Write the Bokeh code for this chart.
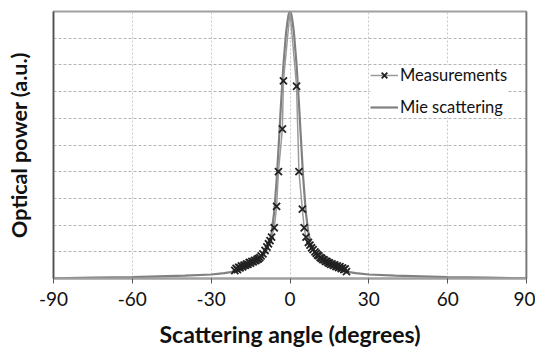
from bokeh.plotting import figure
from bokeh.models import Legend, LegendItem, FixedTicker, Span
from bokeh.embed import file_html
from bokeh.resources import INLINE

# Mie scattering curve (angle in degrees, normalised optical power)
mie_angle = [-90, -75, -60, -50, -40, -30, -25, -20, -17, -15, -13, -11, -10, -9, -8, -7, -6, -5,
             -4, -3.5, -3, -2.5, -2, -1.5, -1, -0.5, 0, 0.5, 1, 1.5, 2, 2.5, 3, 3.5, 4,
             5, 6, 7, 8, 9, 10, 11, 13, 15, 17, 20, 25, 30, 40, 50, 60, 75, 90]
mie_power = [0.001, 0.003, 0.005, 0.008, 0.011, 0.015, 0.020, 0.028, 0.038, 0.048, 0.060, 0.076,
             0.088, 0.105, 0.130, 0.170, 0.250, 0.380, 0.550, 0.640, 0.720, 0.800, 0.860, 0.920,
             0.960, 0.990, 1.000, 0.990, 0.960, 0.920, 0.860, 0.800, 0.720, 0.640, 0.550,
             0.380, 0.250, 0.170, 0.130, 0.105, 0.088, 0.076, 0.060, 0.048, 0.038, 0.028,
             0.020, 0.015, 0.011, 0.008, 0.005, 0.003, 0.001]

# Measurements
meas_angle = [-21.0, -20.5, -20.0, -19.5, -19.0, -18.5, -18.0, -17.5, -17.0, -16.5, -16.0, -15.5,
              -15.0, -14.5, -14.0, -13.5, -13.0, -12.5, -12.0, -11.5, -11.0, -10.3, -9.5, -8.8,
              -8.2, -7.6, -7.0, -6.0, -5.1, -4.4, -2.9, -2.5, 0.0,
              2.5, 3.4, 4.7, 5.4, 6.1, 7.0, 7.6, 8.2, 8.8, 9.5, 10.0, 10.5, 11.0, 11.5, 12.0,
              12.5, 13.0, 13.5, 14.0, 14.5, 15.0, 15.5, 16.0, 16.5, 17.0, 17.5, 18.0, 18.5,
              19.0, 19.5, 20.0, 20.5, 21.0, 21.5]
meas_power = [0.030, 0.038, 0.033, 0.042, 0.040, 0.047, 0.044, 0.050, 0.049, 0.055, 0.053, 0.060,
              0.058, 0.064, 0.062, 0.068, 0.067, 0.072, 0.074, 0.078, 0.085, 0.092, 0.105, 0.118,
              0.130, 0.142, 0.155, 0.190, 0.270, 0.400, 0.560, 0.740, 1.000,
              0.720, 0.400, 0.260, 0.190, 0.155, 0.135, 0.125, 0.115, 0.108, 0.100, 0.094,
              0.088, 0.085, 0.078, 0.076, 0.071, 0.070, 0.064, 0.064, 0.059, 0.058, 0.053,
              0.055, 0.049, 0.051, 0.045, 0.047, 0.041, 0.044, 0.037, 0.040, 0.033, 0.036, 0.026]
peak_index = 32  # peak point of the measurement line (marker hidden behind the frame border)

x_ticks = [-90, -60, -30, 0, 30, 60, 90]
x_tick_labels = ["-90", "-60", "-30", "0", "30", "60", "90"]
y_grid = [0.1, 0.2, 0.3, 0.4, 0.5, 0.6, 0.7, 0.8, 0.9]

FONT = "Lato"

p = figure(width=535, height=351, output_backend="svg", toolbar_location=None,
           x_range=(-90, 90), y_range=(0, 1),
           min_border_left=53, min_border_right=9, min_border_top=11, min_border_bottom=73,
           frame_width=473, frame_height=267)
p.background_fill_color = "white"
p.border_fill_color = "white"
p.outline_line_color = "#a0a0a0"
p.outline_line_width = 2

# x axis
p.xaxis.ticker = FixedTicker(ticks=x_ticks)
p.xaxis.major_label_overrides = {t: s for t, s in zip(x_ticks, x_tick_labels)}
p.xaxis.axis_label = "Scattering angle (degrees)"
p.xaxis.axis_label_text_font = FONT
p.xaxis.axis_label_text_font_style = "bold"
p.xaxis.axis_label_text_font_size = "23px"
p.xaxis.axis_label_text_color = "#111111"
p.xaxis.axis_label_standoff = 11
p.xaxis.major_label_text_font = FONT
p.xaxis.major_label_text_font_size = "19px"
p.xaxis.major_label_text_color = "#111111"
p.xaxis.major_label_standoff = 8
p.xaxis.axis_line_color = "#a0a0a0"
p.xaxis.axis_line_width = 2
p.xaxis.major_tick_line_color = "#555555"
p.xaxis.major_tick_out = 5
p.xaxis.major_tick_in = 0
p.xaxis.minor_tick_line_color = None

# y axis
p.yaxis.ticker = FixedTicker(ticks=y_grid)
p.yaxis.axis_label = "Optical power (a.u.)"
p.yaxis.axis_label_text_font = FONT
p.yaxis.axis_label_text_font_style = "bold"
p.yaxis.axis_label_text_font_size = "21.5px"
p.yaxis.axis_label_text_color = "#111111"
p.yaxis.axis_label_standoff = 16
p.yaxis.major_label_text_font_size = "0px"
p.yaxis.major_label_text_color = None
p.yaxis.major_tick_line_color = None
p.yaxis.minor_tick_line_color = None
p.yaxis.axis_line_color = "#505050"
p.yaxis.axis_line_width = 1.5

# grids
p.xgrid.ticker = FixedTicker(ticks=x_ticks)
p.xgrid.grid_line_color = "#c8c8c8"
p.xgrid.grid_line_dash = "2 2"
p.xgrid.grid_line_width = 1
p.ygrid.grid_line_color = "#b4b4b4"
p.ygrid.grid_line_dash = "3 2"
p.ygrid.grid_line_width = 1

# right border
p.add_layout(Span(location=90, dimension="height", line_color="#505050", line_width=1.5))

mie = p.line(mie_angle, mie_power, line_color="#808080", line_width=2.2)
meas_line = p.line(meas_angle, meas_power, line_color="#9a9a9a", line_width=1.5)
mk_angle = meas_angle[:peak_index] + meas_angle[peak_index + 1:]
mk_power = meas_power[:peak_index] + meas_power[peak_index + 1:]
meas_mk = p.scatter(mk_angle, mk_power, marker="x", size=10, line_color="#222222", line_width=1.8)

legend = Legend(items=[LegendItem(label="Measurements", renderers=[meas_line, meas_mk]),
                       LegendItem(label="Mie scattering", renderers=[mie])],
                location=(317, 161), orientation="vertical")
legend.label_text_font = FONT
legend.label_text_font_size = "16.5px"
legend.label_text_color = "#111111"
legend.glyph_width = 28
legend.glyph_height = 20
legend.label_height = 20
legend.label_standoff = 2
legend.spacing = 12
legend.padding = 10
legend.margin = 0
legend.border_line_color = None
legend.background_fill_color = "white"
legend.background_fill_alpha = 1.0
p.add_layout(legend, "center")

open("out.html", "w").write(file_html(p, INLINE))
